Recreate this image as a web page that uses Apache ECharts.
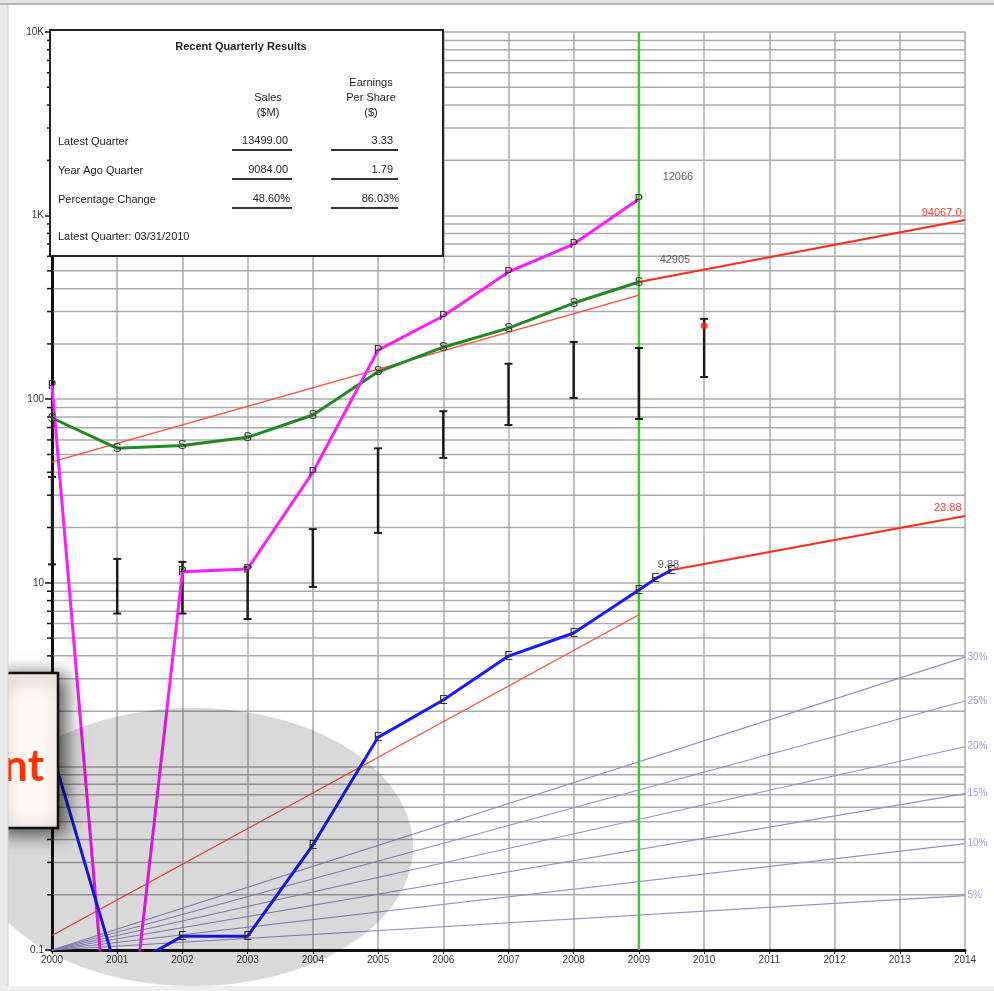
<!DOCTYPE html>
<html>
<head>
<meta charset="utf-8">
<script src="https://cdn.jsdelivr.net/npm/echarts@6/dist/echarts.min.js"></script>
<style>
html, body { margin: 0; padding: 0; background: #fff; }
#chart { width: 994px; height: 991px; }
</style>
</head>
<body>
<div id="chart"></div>
<script>
// yearly history
const years = [2000, 2001, 2002, 2003, 2004, 2005, 2006, 2007, 2008, 2009];
const sales = [79, 54, 56, 62, 82, 141, 192, 244, 334, 435];
const pretax = [119, 0.008, 11.5, 11.9, 40, 185, 284, 493, 700, 1230];

// eps has two extra quarters at the end
const epsYears = [2000, 2001, 2002, 2003, 2004, 2005, 2006, 2007, 2008, 2009, 2009.25, 2009.5];
const eps = [1.2, 0.075, 0.119, 0.119, 0.373, 1.44, 2.3, 3.99, 5.33, 9.14, 10.5, 11.75];

// price ranges (high / low bars)
const priceYears = [2000, 2001, 2002, 2003, 2004, 2005, 2006, 2007, 2008, 2009, 2010];
const priceHigh = [37.7, 13.5, 13, 12.2, 19.6, 54, 86, 156, 205, 190, 274];
const priceLow = [12.6, 6.8, 6.8, 6.35, 9.5, 18.7, 47.9, 72.3, 101.6, 78, 132];
const currentPrice = [2010, 251];

// trend and projection lines
const salesTrendYears = [2000, 2009];
const salesTrend = [45.5, 369];
const salesProjYears = [2009, 2014];
const salesProj = [435, 946];
const epsTrendYears = [2000, 2009];
const epsTrend = [0.12, 6.7];
const epsProjYears = [2009.5, 2014];
const epsProj = [11.75, 23.1];

// last full year marker
const markerYear = 2009;

// growth-rate guide lines (all start at 0.1 in 2000)
const rateNames = ['30%', '25%', '20%', '15%', '10%', '5%'];
const rateEnds = [3.94, 2.27, 1.28, 0.71, 0.38, 0.198];

// minor log gridlines
const minorValues = [];
[0.1, 1, 10, 100, 1000].forEach(d => {
  for (let m = 2; m <= 9; m++) minorValues.push(+(d * m).toPrecision(3));
});

const FONT = '"Liberation Sans", Arial, sans-serif';

const chart = echarts.init(document.getElementById('chart'));

function letterLine(xs, ys, color, letter) {
  return {
    type: 'line',
    z: 4,
    silent: true,
    data: xs.map((x, i) => ({ value: [x, ys[i]], label: { show: ys[i] >= 0.1 } })),
    symbol: 'circle',
    symbolSize: 2,
    itemStyle: { color: 'rgba(0,0,0,0)' },
    lineStyle: { color: color, width: 3 },
    label: {
      show: true,
      position: 'inside',
      formatter: letter,
      color: '#333',
      fontSize: 13,
      fontFamily: FONT
    }
  };
}

function plainLine(xs, ys, color, width, z) {
  return {
    type: 'line',
    z: z,
    silent: true,
    clip: false,
    data: xs.map((x, i) => [x, ys[i]]),
    symbol: 'none',
    lineStyle: { color: color, width: width }
  };
}

function labelledLine(xs, ys, color, width, text, labelOpt) {
  return {
    type: 'line',
    z: 3,
    silent: true,
    clip: false,
    data: xs.map((x, i) => ({ value: [x, ys[i]], label: { show: i === xs.length - 1 } })),
    symbol: 'circle',
    symbolSize: 1,
    itemStyle: { color: 'rgba(0,0,0,0)' },
    lineStyle: { color: color, width: width },
    label: Object.assign({ show: true, formatter: text, fontSize: 11, fontFamily: FONT }, labelOpt)
  };
}

const series = [];

// minor gridlines + left ticks
series.push({
  type: 'custom',
  z: 1,
  silent: true,
  clip: false,
  data: minorValues.map(v => [2000, v]),
  renderItem: function (params, api) {
    const v = api.value(1);
    const a = api.coord([2000, v]);
    const b = api.coord([2014, v]);
    return {
      type: 'group',
      children: [
        { type: 'line', shape: { x1: a[0] + 1.5, y1: a[1], x2: b[0], y2: b[1] }, style: { stroke: '#aaaaaa', lineWidth: 1.5 } },
        { type: 'line', shape: { x1: a[0] - 5, y1: a[1], x2: a[0], y2: a[1] }, style: { stroke: '#111', lineWidth: 1.5 } }
      ]
    };
  }
});

// green marker line at the last full year
series.push(plainLine([markerYear, markerYear], [0.1, 10000], '#3ccc28', 2.5, 2));

// growth-rate fan
rateNames.forEach((name, i) => {
  series.push(labelledLine([2000, 2014], [0.1, rateEnds[i]], '#9a8cc8', 1.2, name,
    { position: 'right', distance: 2, color: '#a898d8', fontSize: 10 }));
});

// trends
series.push(plainLine(salesTrendYears, salesTrend, '#ff4a3a', 1.3, 2));
series.push(plainLine(epsTrendYears, epsTrend, '#ff4a3a', 1.3, 2));

// projections
series.push(labelledLine(salesProjYears, salesProj, '#ff2a1a', 2, '94067.0',
  { position: 'left', distance: 3, offset: [0, -7], color: '#ff3a3a' }));
series.push(labelledLine(epsProjYears, epsProj, '#ff2a1a', 2, '23.88',
  { position: 'left', distance: 3, offset: [0, -8], color: '#ff3a3a' }));

// price bars
series.push({
  type: 'custom',
  z: 3,
  silent: true,
  clip: false,
  data: priceYears.map((y, i) => [y, priceLow[i], priceHigh[i]]),
  encode: { x: 0, y: [1, 2] },
  renderItem: function (params, api) {
    const lo = api.coord([api.value(0), api.value(1)]);
    const hi = api.coord([api.value(0), api.value(2)]);
    const c = '#1c1c1c';
    return {
      type: 'group',
      children: [
        { type: 'line', shape: { x1: lo[0], y1: lo[1], x2: hi[0], y2: hi[1] }, style: { stroke: c, lineWidth: 2.5 } },
        { type: 'line', shape: { x1: hi[0] - 4, y1: hi[1], x2: hi[0] + 4, y2: hi[1] }, style: { stroke: c, lineWidth: 2 } },
        { type: 'line', shape: { x1: lo[0] - 4, y1: lo[1], x2: lo[0] + 4, y2: lo[1] }, style: { stroke: c, lineWidth: 2 } }
      ]
    };
  }
});

// main lines
series.push(letterLine(years, sales, '#1f8a1f', 'S'));
series.push(letterLine(years, pretax, '#ff1aff', 'P'));
series.push(letterLine(epsYears, eps, '#1a1aff', 'E'));

// current price dot
series.push({
  type: 'scatter',
  z: 5,
  silent: true,
  data: [currentPrice],
  symbolSize: 7,
  itemStyle: { color: '#ff2020' }
});

// value notes next to the last points
const noteX = [2009, 2009, 2009.5];
const noteY = [1230, 435, 11.75];
const noteText = ['12066', '42905', '9.88'];
const noteOffset = [[39, -22], [36, -22], [-3, -5]];
series.push({
  type: 'scatter',
  z: 3,
  silent: true,
  symbolSize: 1,
  itemStyle: { color: 'rgba(0,0,0,0)' },
  data: noteX.map((x, i) => ({
    value: [x, noteY[i]],
    label: { formatter: noteText[i], offset: noteOffset[i] }
  })),
  label: { show: true, position: 'inside', color: '#333', fontSize: 11, fontFamily: FONT }
});

function txt(x, y, text, opt) {
  return {
    type: 'text',
    z: 61,
    x: x, y: y,
    style: Object.assign({
      text: text,
      fill: '#222',
      font: '11px ' + FONT,
      align: 'left', textAlign: 'left',
      verticalAlign: 'middle', textVerticalAlign: 'middle'
    }, opt || {})
  };
}
function uline(x1, x2, y) {
  return { type: 'line', z: 61, shape: { x1: x1, y1: y, x2: x2, y2: y }, style: { stroke: '#333', lineWidth: 2 } };
}
const R = { align: 'right', textAlign: 'right' };
const C = { align: 'center', textAlign: 'center' };

const tableItems = [
  { type: 'rect', z: 60, shape: { x: 50, y: 30, width: 393, height: 226 }, style: { fill: '#ffffff', stroke: '#222', lineWidth: 2 } },
  txt(241, 47, 'Recent Quarterly Results', Object.assign({ font: 'bold 11px ' + FONT }, C)),
  txt(268, 98, 'Sales', C),
  txt(268, 113, '($M)', C),
  txt(371, 83, 'Earnings', C),
  txt(371, 98, 'Per Share', C),
  txt(371, 113, '($)', C),
  txt(58, 142, 'Latest Quarter'),
  txt(58, 171, 'Year Ago Quarter'),
  txt(58, 200, 'Percentage Change'),
  txt(58, 237, 'Latest Quarter: 03/31/2010'),
  txt(288, 141, '13499.00', R),
  txt(288, 170, '9084.00', R),
  txt(290, 199, '48.60%', R),
  txt(393, 141, '3.33', R),
  txt(393, 170, '1.79', R),
  txt(399, 199, '86.03%', R),
  uline(232, 292, 150), uline(331, 398, 150),
  uline(232, 292, 179), uline(331, 398, 179),
  uline(232, 292, 208), uline(331, 398, 208)
];

const option = {
  animation: false,
  backgroundColor: '#fff',
  grid: { left: 52, right: 29, top: 32, bottom: 41 },
  xAxis: {
    type: 'value',
    min: 2000,
    max: 2014,
    interval: 1,
    axisLine: { lineStyle: { color: '#111', width: 3 } },
    axisTick: { show: true, length: 4, lineStyle: { color: '#111' } },
    axisLabel: { color: '#333', fontSize: 10, fontFamily: FONT, margin: 5, formatter: v => String(v) },
    splitLine: { show: true, lineStyle: { color: '#aaaaaa', width: 1.5 } }
  },
  yAxis: {
    type: 'log',
    logBase: 10,
    min: 0.1,
    max: 10000,
    axisLine: { show: true, lineStyle: { color: '#111', width: 3 } },
    axisTick: { show: true, length: 7, lineStyle: { color: '#111', width: 1.5 } },
    axisLabel: {
      color: '#333', fontSize: 10, fontFamily: FONT, margin: 8,
      formatter: v => v >= 1000 ? (v / 1000) + 'K' : String(v)
    },
    splitLine: { show: true, lineStyle: { color: '#aaaaaa', width: 1.5 } }
  },
  series: series,
  graphic: [
    // outer frame
    { type: 'rect', z: 100, shape: { x: 0, y: 0, width: 8, height: 991 }, style: { fill: '#e9e9e9' } },
    { type: 'line', z: 100, shape: { x1: 8, y1: 0, x2: 8, y2: 991 }, style: { stroke: '#cfcfcf', lineWidth: 1 } },
    { type: 'rect', z: 100, shape: { x: 0, y: 0, width: 994, height: 5 }, style: { fill: '#e6e6e6' } },
    { type: 'line', z: 100, shape: { x1: 0, y1: 4, x2: 994, y2: 4 }, style: { stroke: '#b5b5b5', lineWidth: 2 } },
    { type: 'rect', z: 100, shape: { x: 0, y: 986, width: 994, height: 5 }, style: { fill: '#eeeeee' } },
    // highlight ellipse
    { type: 'ellipse', z: 50, shape: { cx: 193, cy: 847, rx: 220, ry: 139 }, style: { fill: 'rgba(0,0,0,0.15)' } }
  ].concat(tableItems, [
    // callout box
    {
      type: 'rect', z: 70,
      shape: { x: -4, y: 673, width: 62, height: 155 },
      style: {
        fill: '#fff8f3', stroke: '#111', lineWidth: 2.5,
        shadowBlur: 18, shadowColor: 'rgba(0,0,0,0.7)', shadowOffsetX: 6, shadowOffsetY: 4
      }
    },
    {
      type: 'text', z: 71, x: 44, y: 767,
      style: {
        text: 'nt', fill: '#ff3300', font: 'bold 44px Lato, "Open Sans", sans-serif',
        align: 'right', textAlign: 'right', verticalAlign: 'middle', textVerticalAlign: 'middle'
      }
    }
  ])
};

chart.setOption(option);
</script>
</body>
</html>
